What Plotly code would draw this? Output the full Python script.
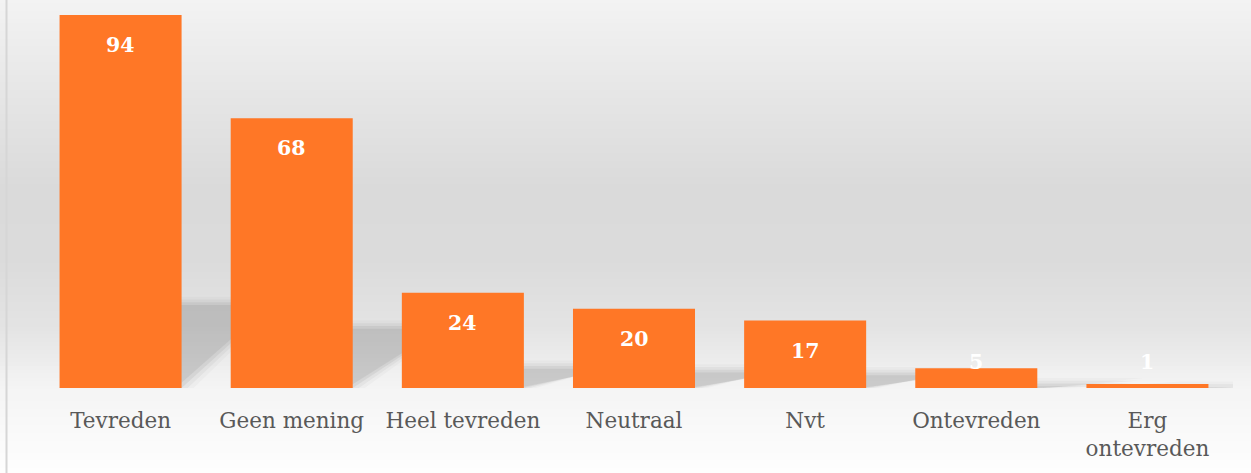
import plotly.graph_objects as go

categories = ["Tevreden", "Geen mening", "Heel tevreden", "Neutraal", "Nvt", "Ontevreden", "Erg<br>ontevreden"]
values = [94, 68, 24, 20, 17, 5, 1]

BAR_COLOR = "#FF7726"
FONT = "DejaVu Serif"
Y_MAX = 94
BARGAP = 0.287

W, H = 1251, 473
ML, MR, MT, MB = 35, 18, 15, 85
PW, PH = W - ML - MR, H - MT - MB

fig = go.Figure()

fig.add_trace(go.Bar(
    x=categories, y=values,
    marker=dict(color=BAR_COLOR, line=dict(width=0)),
    hoverinfo="x+y",
))

shapes = []
# background vertical gradient over the whole image (t: 0 top -> 1 bottom)
stops = [(0.0, 243), (0.2, 230), (0.4, 218), (0.55, 219), (0.7, 228), (0.82, 244), (1.0, 254)]
def grey_at(t):
    for (a, ca), (b, cb) in zip(stops[:-1], stops[1:]):
        if a <= t <= b:
            f = (t - a) / (b - a)
            return ca + (cb - ca) * f
    return stops[-1][1]
def paper_y(t):
    return 1 + MT / PH - t * H / PH
N = 120
for i in range(N):
    t0 = i / N
    t1 = (i + 1) / N
    g = int(round(grey_at((t0 + t1) / 2)))
    shapes.append(dict(type="rect", xref="paper", yref="paper",
                       x0=-ML / PW - 0.01, x1=1 + MR / PW + 0.01,
                       y0=paper_y(t1) - 0.002, y1=paper_y(t0) + 0.002,
                       fillcolor=f"rgb({g},{g},{g})", line=dict(width=0), layer="below"))
# left border line
bx = (6.5 - ML) / PW
shapes.append(dict(type="line", xref="paper", yref="paper", x0=bx, x1=bx,
                   y0=paper_y(1.02), y1=paper_y(-0.02),
                   line=dict(color="#d6d6d6", width=2), layer="below"))

# perspective shadows (derived from bar values), layered for blur
half = (1 - BARGAP) / 2
K = 0.23
DX = 0.55
for i, v in enumerate(values):
    for grow, op in [(0.07, 0.04), (0.035, 0.06), (0.0, 0.09), (-0.035, 0.10)]:
        x0 = i - half
        x1 = i + half + grow
        top = v * K + grow * 20
        path = f"M {x0},0 L {x1},0 L {x1 + DX},{top} L {x0 + DX},{top} Z"
        shapes.append(dict(type="path", xref="x", yref="y", path=path,
                           fillcolor=f"rgba(90,90,90,{op})", line=dict(width=0), layer="below"))

annotations = []
for c, v in zip(categories, values):
    if v >= 14:
        y, ys = v, -30
    else:
        y, ys = 0, 26
    annotations.append(dict(x=c, y=y, yshift=ys, text=f"<b>{v}</b>", showarrow=False,
                            font=dict(family=FONT, size=20.5, color="white"),
                            xref="x", yref="y"))

fig.update_layout(
    width=W, height=H,
    margin=dict(l=ML, r=MR, t=MT, b=MB),
    paper_bgcolor="white",
    plot_bgcolor="rgba(0,0,0,0)",
    bargap=BARGAP,
    showlegend=False,
    shapes=shapes,
    annotations=annotations,
    font=dict(family=FONT, color="#595959"),
    xaxis=dict(range=[-0.5, len(categories) - 0.5], showgrid=False, zeroline=False, showline=False,
               ticks="outside", ticklen=13, tickcolor="rgba(0,0,0,0)", automargin=False,
               tickfont=dict(family=FONT, size=21.5, color="#595959")),
    yaxis=dict(range=[0, Y_MAX], visible=False, showgrid=False, zeroline=False, automargin=False),
)

fig.write_html("out.html",
               config={"displayModeBar": False},
               post_script="document.body.style.margin='0';document.body.style.overflow='hidden';")
